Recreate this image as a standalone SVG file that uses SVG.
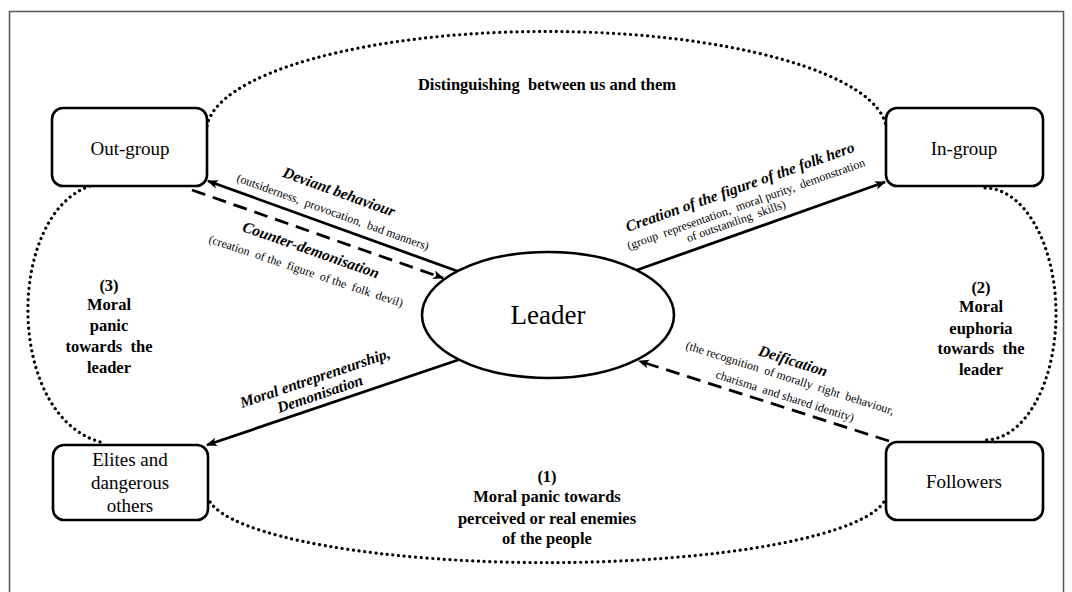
<svg xmlns="http://www.w3.org/2000/svg" width="1072" height="592" viewBox="0 0 1072 592">
<defs>
<marker id="ah" viewBox="0 0 10 10" refX="9" refY="5" markerWidth="11" markerHeight="11" markerUnits="userSpaceOnUse" orient="auto">
<path d="M0,1 L10,5 L0,9 L2.5,5 z" fill="#000" stroke="none"/>
</marker>
<style>
.box{fill:#fff;stroke:#000;stroke-width:2.6}
.ell{fill:#fff;stroke:#000;stroke-width:2.6}
.dot{fill:none;stroke:#000;stroke-width:3.2;stroke-linecap:round;stroke-dasharray:0.1 5.6}
.sol{fill:none;stroke:#000;stroke-width:2.8}
.dash{fill:none;stroke:#000;stroke-width:2.8;stroke-dasharray:14 8}
.lbl{font-family:"Liberation Serif","Times New Roman",serif;font-size:19px;fill:#000;text-anchor:middle}
.big{font-family:"Liberation Serif","Times New Roman",serif;font-size:27px;fill:#000;text-anchor:middle}
.zone{font-family:"Liberation Serif","Times New Roman",serif;font-size:16.5px;font-weight:bold;fill:#000;text-anchor:middle}
.ttl{font-family:"Liberation Serif","Times New Roman",serif;font-size:15.5px;font-weight:bold;font-style:italic;fill:#000;text-anchor:middle}
.sub{font-family:"Liberation Serif","Times New Roman",serif;font-size:12px;fill:#000;text-anchor:middle}
</style>
</defs>
<rect x="9.5" y="11.5" width="1054" height="600" fill="#fff" stroke="#555" stroke-width="1.5"/>

<g id="zones">
<path class="dot" d="M207,126 A340,100 0 0 1 886,126"/>
<path class="dot" d="M985,188 A71,126 0 0 1 985,440"/>
<path class="dot" d="M210,502 A340,70 0 0 0 885,500"/>
<path class="dot" d="M90,186 C5,215 5,420 104,443"/>
<text class="zone" x="547" y="90" xml:space="preserve">Distinguishing  between us and them</text>
<text class="zone" x="547" y="482">(1)</text>
<text class="zone" x="547" y="502">Moral panic towards</text>
<text class="zone" x="547" y="524">perceived or real enemies</text>
<text class="zone" x="547" y="544">of the people</text>
<text class="zone" x="981" y="293">(2)</text>
<text class="zone" x="981" y="312">Moral</text>
<text class="zone" x="981" y="334">euphoria</text>
<text class="zone" x="981" y="354" xml:space="preserve">towards  the</text>
<text class="zone" x="981" y="375">leader</text>
<text class="zone" x="109" y="291">(3)</text>
<text class="zone" x="109" y="310">Moral</text>
<text class="zone" x="109" y="331">panic</text>
<text class="zone" x="109" y="352" xml:space="preserve">towards  the</text>
<text class="zone" x="109" y="373">leader</text>
</g>

<g id="connectors">
<path class="sol" d="M457,271 L208,181" marker-end="url(#ah)"/>
<path class="dash" d="M192,190 L443,278" marker-end="url(#ah)"/>
<path class="sol" d="M637,270 L885,182" marker-end="url(#ah)"/>
<path class="sol" d="M458,360 L207,445" marker-end="url(#ah)"/>
<path class="dash" d="M889,441 L639,361" marker-end="url(#ah)"/>
<text class="ttl" transform="translate(339,192) rotate(19.9)" y="5">Deviant behaviour</text>
<text class="sub" transform="translate(333,212) rotate(19.9)" y="4" xml:space="preserve">(outsiderness,  provocation,  bad manners)</text>
<text class="ttl" transform="translate(311,250) rotate(19.3)" y="5">Counter-demonisation</text>
<text class="sub" transform="translate(306,271) rotate(18.5)" y="4" xml:space="preserve">(creation  of the  figure  of the  folk  devil)</text>
<text class="ttl" transform="translate(740,187) rotate(-19.5)" y="5">Creation of the figure of the folk hero</text>
<text class="sub" transform="translate(746,204) rotate(-19.5)" y="4" xml:space="preserve">(group  representation,  moral purity,  demonstration</text>
<text class="sub" transform="translate(736,221) rotate(-19.5)" y="4" xml:space="preserve">of outstanding  skills)</text>
<text class="ttl" transform="translate(315,378) rotate(-18.7)" y="5">Moral entrepreneurship,</text>
<text class="ttl" transform="translate(320,394) rotate(-18.7)" y="5">Demonisation</text>
<text class="ttl" transform="translate(793,361) rotate(17.7)" y="5">Deification</text>
<text class="sub" transform="translate(790,378) rotate(17.7)" y="4" xml:space="preserve">(the recognition  of morally  right  behaviour,</text>
<text class="sub" transform="translate(785,396) rotate(17.7)" y="4" xml:space="preserve">charisma  and shared identity)</text>
</g>

<g id="outgroup">
<rect class="box" x="52" y="108" width="155" height="78" rx="11"/>
<text class="lbl" x="130" y="155">Out-group</text>
</g>
<g id="ingroup">
<rect class="box" x="886" y="108" width="157" height="78" rx="11"/>
<text class="lbl" x="964" y="155">In-group</text>
</g>
<g id="elites">
<rect class="box" x="53" y="445" width="155" height="75" rx="11"/>
<text class="lbl" x="130" y="466">Elites and</text>
<text class="lbl" x="130" y="489">dangerous</text>
<text class="lbl" x="130" y="512">others</text>
</g>
<g id="followers">
<rect class="box" x="886" y="442" width="157" height="78" rx="11"/>
<text class="lbl" x="964" y="488">Followers</text>
</g>
<g id="leader">
<ellipse class="ell" cx="548" cy="315" rx="126" ry="63"/>
<text class="big" x="548" y="324">Leader</text>
</g>
</svg>
